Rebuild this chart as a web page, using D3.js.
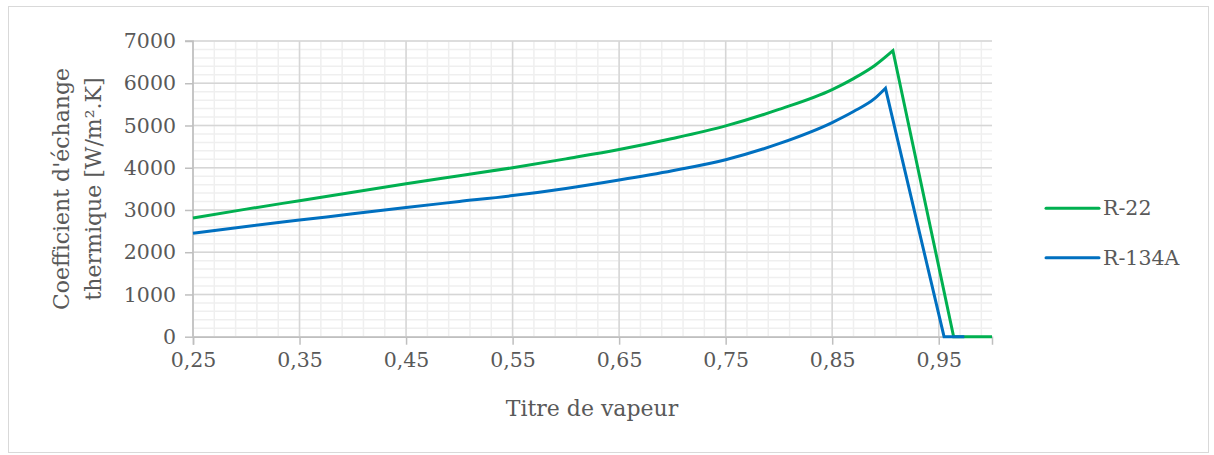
<!DOCTYPE html>
<html><head><meta charset="utf-8">
<script src="https://cdn.jsdelivr.net/npm/d3@7/dist/d3.min.js"></script>
<style>body{margin:0;background:#fff}svg{display:block}</style>
</head><body>
<script>
// Data
const seriesNames = ["R-22", "R-134A"];
const r22X = [0.25,0.30,0.35,0.40,0.45,0.50,0.55,0.60,0.65,0.70,0.75,0.80,0.85,0.87,0.89,0.907,0.964,1.0];
const r22Y = [2810,3020,3220,3420,3620,3810,4000,4210,4430,4690,4990,5380,5850,6110,6420,6770,0,0];
const r134X = [0.25,0.30,0.35,0.40,0.45,0.50,0.55,0.60,0.65,0.70,0.75,0.80,0.85,0.87,0.89,0.90,0.955,0.974];
const r134Y = [2450,2610,2760,2910,3060,3200,3340,3510,3710,3930,4190,4570,5070,5330,5640,5880,0,0];
const peakIndex = [15, 15];
const xTicks = [0.25,0.35,0.45,0.55,0.65,0.75,0.85,0.95];
const yTicks = [0,1000,2000,3000,4000,5000,6000,7000];
const colors = ["#00B050", "#0070C0"];

const W = 1214, H = 455;
const svg = d3.select("body").append("svg").attr("width", W).attr("height", H);
const font = "DejaVu Serif";
const txt = "#595959";

svg.append("rect").attr("x",8.5).attr("y",6.5).attr("width",1200).attr("height",446)
  .attr("fill","#fff").attr("stroke","#d9d9d9").attr("stroke-width",1);

const x = d3.scaleLinear().domain([0.25,1.0]).range([193, 992]);
const y = d3.scaleLinear().domain([0,7000]).range([336.7, 41]);

const g = svg.append("g");
// minor grid
const minorX = d3.range(0.25, 1.0001, 0.02).map(v=>+v.toFixed(2));
const minorY = d3.range(0, 7001, 200);
g.selectAll(".mx").data(minorX).enter().append("line")
  .attr("x1",d=>x(d)).attr("x2",d=>x(d)).attr("y1",y(0)).attr("y2",y(7000))
  .attr("stroke","#efefef").attr("stroke-width",1.5);
g.selectAll(".my").data(minorY).enter().append("line")
  .attr("x1",x(0.25)).attr("x2",x(1.0)).attr("y1",d=>y(d)).attr("y2",d=>y(d))
  .attr("stroke","#efefef").attr("stroke-width",1.5);
// major grid
g.selectAll(".gx").data(xTicks).enter().append("line")
  .attr("x1",d=>x(d)).attr("x2",d=>x(d)).attr("y1",y(0)).attr("y2",y(7000))
  .attr("stroke","#d6d6d6").attr("stroke-width",1.5);
g.selectAll(".gy").data(yTicks).enter().append("line")
  .attr("x1",x(0.25)).attr("x2",x(1.0)).attr("y1",d=>y(d)).attr("y2",d=>y(d))
  .attr("stroke","#d6d6d6").attr("stroke-width",1.5);

// axes
const fmt = d3.format(".2f");
const xAxis = d3.axisBottom(x).tickValues(xTicks).tickSize(8).tickPadding(8)
  .tickFormat(d=>fmt(d).replace(".",","));
const yAxis = d3.axisLeft(y).tickValues(yTicks).tickSize(8).tickPadding(9).tickFormat(d3.format("d"));
const gx = svg.append("g").attr("transform",`translate(0,${y(0)})`).call(xAxis);
const gy = svg.append("g").attr("transform",`translate(${x(0.25)},0)`).call(yAxis);
[gx,gy].forEach(a=>{
  a.select(".domain").attr("stroke","#bfbfbf").attr("stroke-width",1.5);
  a.selectAll(".tick line").attr("stroke","#bfbfbf").attr("stroke-width",1.5);
  a.selectAll("text").attr("fill",txt).style("font-family",font).style("font-size","20.5px");
});
gy.select(".domain").attr("d",`M-8,${y(7000)}H0V${y(0)}`);

// lines: smooth rise up to the peak, straight drop after
const smooth = d3.line().x(d=>x(d[0])).y(d=>y(d[1])).curve(d3.curveMonotoneX);
const data = [d3.zip(r22X, r22Y), d3.zip(r134X, r134Y)];
svg.selectAll(".series").data(data).enter().append("path")
  .attr("d", (d,i)=>{
    const rise = d.slice(0, peakIndex[i]+1);
    const rest = d.slice(peakIndex[i]+1);
    return smooth(rise) + rest.map(p=>`L${x(p[0])},${y(p[1])}`).join("");
  })
  .attr("fill","none")
  .attr("stroke",(d,i)=>colors[i]).attr("stroke-width",3)
  .attr("stroke-linejoin","miter").attr("stroke-linecap","butt");

// axis titles
svg.append("text").attr("x",592).attr("y",416).attr("text-anchor","middle")
  .attr("fill",txt).style("font-family",font).style("font-size","22px").text("Titre de vapeur");
const yt = svg.append("text").attr("transform","translate(0,189) rotate(-90)")
  .attr("text-anchor","middle").attr("fill",txt).style("font-family",font).style("font-size","22px");
yt.append("tspan").attr("x",0).attr("y",69).text("Coefficient d'échange");
yt.append("tspan").attr("x",0).attr("y",101).text("thermique [W/m².K]");

// legend
const lg = svg.append("g");
seriesNames.forEach((n,i)=>{
  const yy = 208.3 + i*49.4;
  lg.append("line").attr("x1",1046).attr("x2",1099).attr("y1",yy).attr("y2",yy)
    .attr("stroke",colors[i]).attr("stroke-width",3).attr("stroke-linecap","round");
  lg.append("text").attr("x",1103).attr("y",yy+7).attr("fill",txt)
    .style("font-family",font).style("font-size","20.5px").text(n);
});
</script>
</body></html>
